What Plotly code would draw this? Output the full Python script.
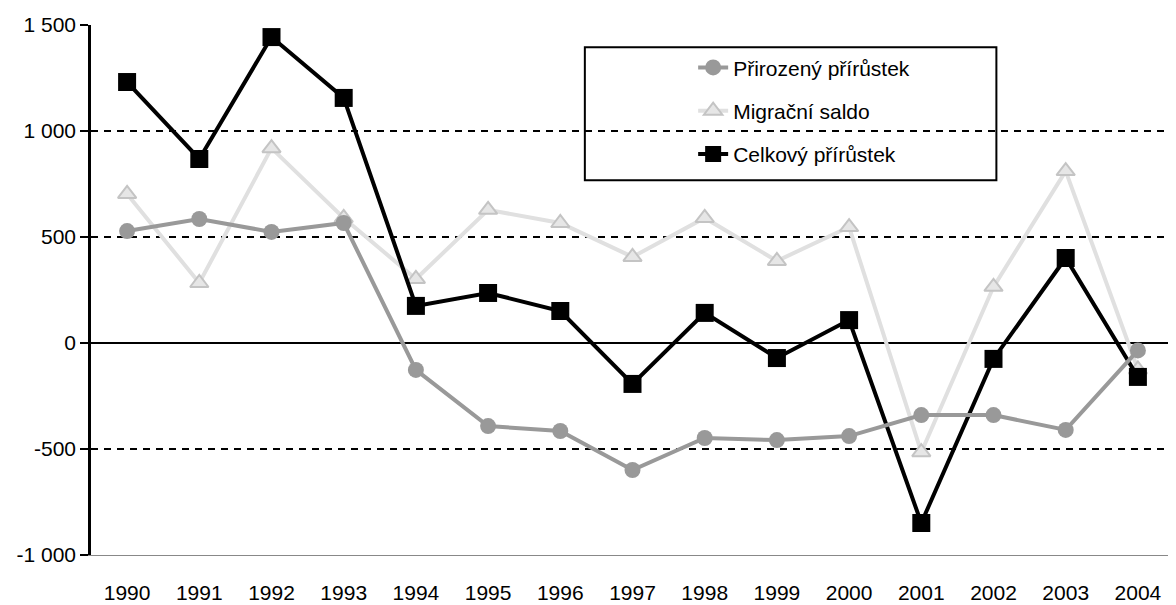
import plotly.graph_objects as go

years = ["1990", "1991", "1992", "1993", "1994", "1995", "1996", "1997",
         "1998", "1999", "2000", "2001", "2002", "2003", "2004"]
prirozeny = [528, 585, 524, 566, -127, -392, -415, -599, -448, -458, -439, -340, -340, -410, -35]
migracni = [703, 283, 919, 590, 302, 628, 566, 406, 590, 387, 547, -515, 265, 811, -125]
celkovy = [1231, 868, 1443, 1156, 175, 236, 151, -193, 142, -71, 108, -849, -75, 401, -160]

ytickvals = [-1000, -500, 0, 500, 1000, 1500]
yticktext = ["-1 000", "-500", "0", "500", "1 000", "1 500"]

FONT = "Liberation Sans Narrow, Arial Narrow, Liberation Sans, Arial, sans-serif"
FS = 21

fig = go.Figure()
fig.add_trace(go.Scatter(
    x=years, y=migracni, name="Migrační saldo", mode="lines+markers",
    line=dict(color="#e0e0e0", width=4),
    marker=dict(symbol="triangle-up", size=16, color="#e6e6e6",
                line=dict(color="#c4c4c4", width=2)),
    legendgroup="b", legendrank=2))
fig.add_trace(go.Scatter(
    x=years, y=celkovy, name="Celkový přírůstek", mode="lines+markers",
    line=dict(color="#000000", width=4),
    marker=dict(symbol="square", size=18, color="#000000"),
    legendgroup="c", legendrank=3))
fig.add_trace(go.Scatter(
    x=years, y=prirozeny, name="Přirozený přírůstek", mode="lines+markers",
    line=dict(color="#999999", width=4),
    marker=dict(symbol="circle", size=16, color="#999999"),
    legendgroup="a", legendrank=1))

fig.update_layout(
    width=1168, height=597,
    margin=dict(l=83, r=2, t=17, b=50, autoexpand=False),
    paper_bgcolor="white", plot_bgcolor="white",
    font=dict(family=FONT, size=FS, color="black"),
    showlegend=True,
    legend=dict(x=0.556, y=0.958, xanchor="left", yanchor="top",
                bgcolor="rgba(0,0,0,0)", borderwidth=0,
                traceorder="grouped", tracegroupgap=13,
                font=dict(family=FONT, size=FS)),
    shapes=[dict(type="rect", xref="paper", yref="paper",
                 x0=0.456, x1=0.836, y0=0.707, y1=0.958,
                 line=dict(color="black", width=2), fillcolor="rgba(0,0,0,0)"),
            dict(type="line", xref="paper", yref="paper",
                 x0=1, x1=1, y0=0, y1=1,
                 line=dict(color="black", width=1.5))],
)
fig.update_xaxes(
    type="category", range=[-0.5, 14.5], showgrid=False,
    showline=True, linecolor="#888888", linewidth=1,
    ticks="", tickfont=dict(size=FS), ticklabelstandoff=19, automargin=False,
)
fig.update_yaxes(
    range=[-1000, 1500], tickvals=ytickvals, ticktext=yticktext,
    showgrid=True, gridcolor="black", gridwidth=2, griddash="7px,6px",
    zeroline=True, zerolinecolor="black", zerolinewidth=1.5,
    showline=True, linecolor="black", linewidth=2.5,
    ticks="outside", ticklen=8, tickwidth=2, tickcolor="black",
    tickfont=dict(size=FS), automargin=False,
)
fig.write_html("out.html")
